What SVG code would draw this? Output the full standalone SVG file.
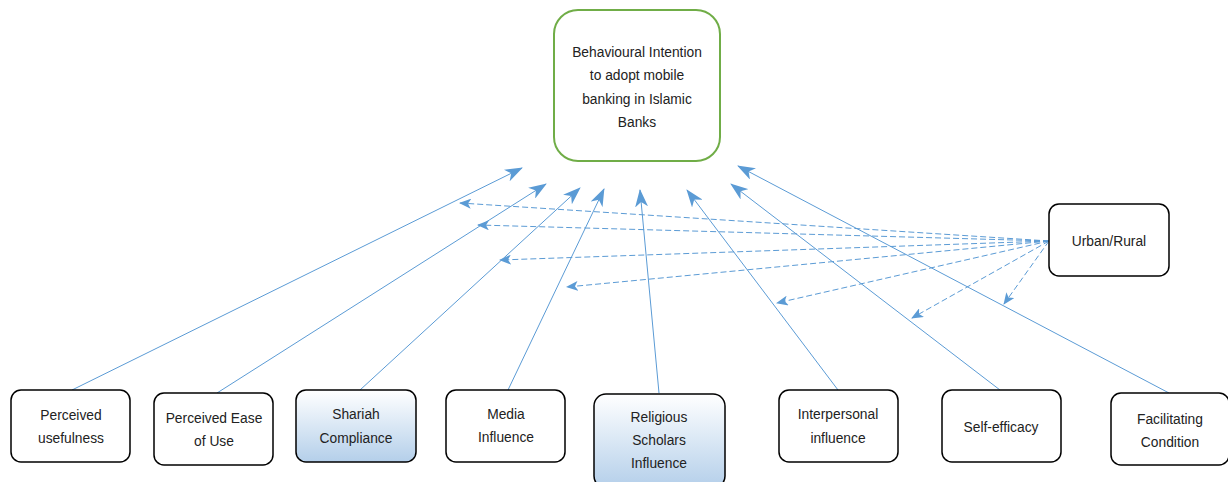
<svg xmlns="http://www.w3.org/2000/svg" width="1228" height="482" viewBox="0 0 1228 482">
<style>
.box{fill:#fff;stroke:#000;stroke-width:1.5}
.grad{fill:url(#blueGrad);stroke:#000;stroke-width:1.5}
.top{fill:#fff;stroke:#70AD47;stroke-width:2}
text{font-family:"Liberation Sans",Arial,sans-serif;font-size:13.8px;fill:#222;text-anchor:middle}
.solid{stroke:#5B9BD5;stroke-width:1;fill:none;marker-end:url(#big)}
.dash{stroke:#5B9BD5;stroke-width:1;fill:none;stroke-dasharray:6,3;marker-end:url(#small)}
</style>
<defs>
<linearGradient id="blueGrad" x1="0" y1="0" x2="0" y2="1">
<stop offset="0" stop-color="#ffffff"/>
<stop offset="1" stop-color="#B4CFEA"/>
</linearGradient>
<marker id="big" viewBox="0 0 18 13" refX="17" refY="6.5" markerWidth="18" markerHeight="13" markerUnits="userSpaceOnUse" orient="auto">
<path d="M0,0 L18,6.5 L0,13 L5,6.5 z" fill="#5B9BD5"/>
</marker>
<marker id="small" viewBox="0 0 12 10" refX="11" refY="5" markerWidth="12" markerHeight="10" markerUnits="userSpaceOnUse" orient="auto">
<path d="M0,0 L12,5 L0,10 L3,5 z" fill="#5B9BD5"/>
</marker>
</defs>
<g id="connectors">
<line class="solid" x1="72" y1="390" x2="522" y2="168"/>
<line class="solid" x1="217" y1="393" x2="546" y2="184"/>
<line class="solid" x1="360" y1="390" x2="580" y2="188"/>
<line class="solid" x1="508" y1="390" x2="604" y2="189"/>
<line class="solid" x1="659" y1="393" x2="640" y2="190"/>
<line class="solid" x1="838" y1="390" x2="687" y2="190"/>
<line class="solid" x1="1000" y1="390" x2="731" y2="184"/>
<line class="solid" x1="1169" y1="393" x2="738" y2="166"/>
<line class="dash" x1="1049" y1="241" x2="460" y2="203"/>
<line class="dash" x1="1049" y1="241" x2="478" y2="225"/>
<line class="dash" x1="1049" y1="241" x2="500" y2="260"/>
<line class="dash" x1="1049" y1="241" x2="567" y2="287"/>
<line class="dash" x1="1049" y1="241" x2="777" y2="303"/>
<line class="dash" x1="1049" y1="241" x2="912" y2="318"/>
<line class="dash" x1="1049" y1="241" x2="1004" y2="304"/>
</g>
<g id="intention">
<rect class="top" x="554" y="10" width="166" height="151" rx="24"/>
<text x="637" y="57">Behavioural Intention</text>
<text x="637" y="80">to adopt mobile</text>
<text x="637" y="104">banking in Islamic</text>
<text x="637" y="127">Banks</text>
</g>
<g id="urban">
<rect class="box" x="1049" y="204" width="120" height="72" rx="10"/>
<text x="1109" y="246">Urban/Rural</text>
</g>
<g id="pu">
<rect class="box" x="11" y="390" width="119" height="72" rx="10"/>
<text x="71" y="420">Perceived</text>
<text x="71" y="443">usefulness</text>
</g>
<g id="peou">
<rect class="box" x="154" y="393" width="119" height="72" rx="10"/>
<text x="214" y="423">Perceived Ease</text>
<text x="214" y="446">of Use</text>
</g>
<g id="shariah">
<rect class="grad" x="296" y="390" width="120" height="72" rx="10"/>
<text x="356" y="419">Shariah</text>
<text x="356" y="443">Compliance</text>
</g>
<g id="media">
<rect class="box" x="446" y="390" width="119" height="72" rx="10"/>
<text x="506" y="419">Media</text>
<text x="506" y="442">Influence</text>
</g>
<g id="scholars">
<rect class="grad" x="594" y="394" width="131" height="94" rx="12"/>
<text x="659" y="422">Religious</text>
<text x="659" y="445">Scholars</text>
<text x="659" y="468">Influence</text>
</g>
<g id="interpersonal">
<rect class="box" x="779" y="390" width="119" height="72" rx="10"/>
<text x="838" y="419">Interpersonal</text>
<text x="838" y="443">influence</text>
</g>
<g id="selfefficacy">
<rect class="box" x="942" y="390" width="119" height="72" rx="10"/>
<text x="1001" y="432">Self-efficacy</text>
</g>
<g id="facilitating">
<rect class="box" x="1111" y="393" width="118" height="72" rx="10"/>
<text x="1170" y="424">Facilitating</text>
<text x="1170" y="447">Condition</text>
</g>
</svg>
